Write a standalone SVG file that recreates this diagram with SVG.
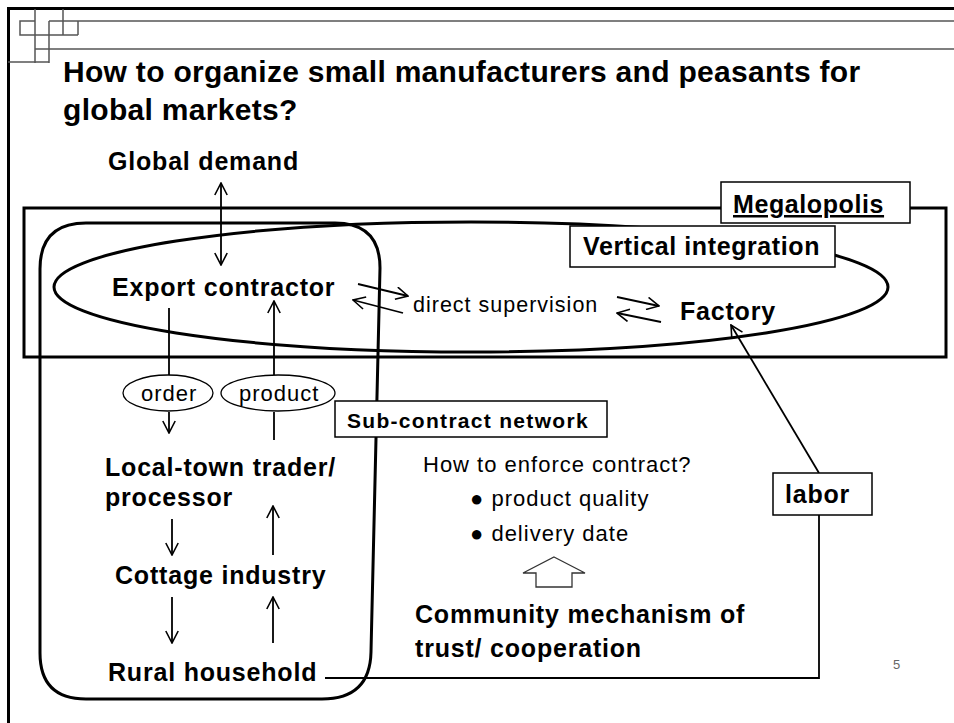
<svg xmlns="http://www.w3.org/2000/svg" width="954" height="723" viewBox="0 0 954 723">
<defs>
<style>
.b{font-family:"Liberation Sans",Arial,sans-serif;font-weight:bold;font-size:25px;letter-spacing:0.8px;fill:#000}
.r{font-family:"Liberation Sans",Arial,sans-serif;font-size:22px;letter-spacing:1px;fill:#000}
.t{font-family:"Liberation Sans",Arial,sans-serif;font-weight:bold;font-size:30px;letter-spacing:0.3px;fill:#000}
.box{fill:#fff;stroke:#000;stroke-width:1.5}
.thick{fill:none;stroke:#000;stroke-width:3}
.ln{fill:none;stroke:#000;stroke-width:1.8}
.arr{fill:none;stroke:#000;stroke-width:1.8;marker-end:url(#ah)}
.dbl{fill:none;stroke:#000;stroke-width:1.8;marker-end:url(#ah);marker-start:url(#ah)}
.deco{fill:none;stroke:#555;stroke-width:1.5}
</style>
<marker id="ah" markerUnits="userSpaceOnUse" markerWidth="14" markerHeight="14" viewBox="0 0 14 14" refX="13" refY="7" orient="auto-start-reverse">
<path d="M1,0.8 L13,7 L1,13.2" fill="none" stroke="#000" stroke-width="1.6"/>
</marker>
</defs>
<rect width="954" height="723" fill="#fff"/>
<g id="frame">
<path d="M7,8.5 H954 M8.5,8 V723" stroke="#000" stroke-width="3" fill="none"/>
<path class="deco" d="M20,21 H35 V35 H20 Z M35,9 V63 M49,21 V63 M63,9 V35 M78,21 V35 M49,21 H954 M20,35 H78 M35,49 H954 M8,62 H49"/>
</g>
<g id="title">
<text class="t" x="63" y="82">How to organize small manufacturers and peasants for</text>
<text class="t" x="63" y="120">global markets?</text>
</g>
<g id="regions">
<rect id="megalopolis-area" class="thick" x="24" y="208" width="922" height="149"/>
<ellipse id="vertical-area" class="thick" cx="471" cy="287" rx="417" ry="65"/>
<path id="subcontract-area" class="thick" d="M86,223 L335,223 Q380,223 380,268 L371,652 Q370,699 322,699 L86,699 Q40,699 40,653 L40,269 Q40,223 86,223 Z"/>
</g>
<g id="connectors">
<line class="dbl" x1="221" y1="183" x2="221" y2="265"/>
<line class="ln" x1="169" y1="308" x2="169" y2="375"/>
<line class="arr" x1="169" y1="412" x2="169" y2="433"/>
<line class="arr" x1="274" y1="375" x2="274" y2="301"/>
<line class="ln" x1="274" y1="412" x2="274" y2="440"/>
<line class="arr" x1="358" y1="284" x2="408" y2="296"/>
<line class="arr" x1="403" y1="313" x2="353" y2="300"/>
<line class="arr" x1="617" y1="297" x2="659" y2="306"/>
<line class="arr" x1="661" y1="322" x2="617" y2="313"/>
<line class="arr" x1="172" y1="519" x2="172" y2="555"/>
<line class="arr" x1="273" y1="555" x2="273" y2="506"/>
<line class="arr" x1="172" y1="597" x2="172" y2="643"/>
<line class="arr" x1="273" y1="643" x2="273" y2="597"/>
<line class="arr" x1="819" y1="473" x2="731" y2="325"/>
<path class="ln" d="M325,678 H819 V515"/>
</g>
<g id="megalopolis">
<rect class="box" x="721" y="182" width="189" height="41"/>
<text class="b" x="733" y="213" text-decoration="underline" style="letter-spacing:0.6px">Megalopolis</text>
</g>
<g id="vertical-integration">
<rect class="box" x="570" y="226" width="265" height="41"/>
<text class="b" x="583" y="255" style="letter-spacing:0.6px">Vertical integration</text>
</g>
<g id="global-demand"><text class="b" x="108" y="170">Global demand</text></g>
<g id="export-contractor"><text class="b" x="112" y="296">Export contractor</text></g>
<g id="direct-supervision"><text class="r" x="413" y="312" style="font-size:21.5px">direct supervision</text></g>
<g id="factory"><text class="b" x="680" y="320">Factory</text></g>
<g id="order">
<ellipse fill="#fff" stroke="#000" stroke-width="1.3" cx="168" cy="393" rx="45" ry="18"/>
<text class="r" x="141" y="401">order</text>
</g>
<g id="product">
<ellipse fill="#fff" stroke="#000" stroke-width="1.3" cx="278" cy="393" rx="57" ry="18"/>
<text class="r" x="239" y="401">product</text>
</g>
<g id="sub-contract-network">
<rect class="box" x="335" y="401" width="272" height="36"/>
<text class="b" x="347" y="428" style="font-size:21px;letter-spacing:1.3px">Sub-contract network</text>
</g>
<g id="local-town-trader">
<text class="b" x="105" y="476">Local-town trader/</text>
<text class="b" x="105" y="506">processor</text>
</g>
<g id="cottage-industry"><text class="b" x="115" y="584">Cottage industry</text></g>
<g id="rural-household"><text class="b" x="108" y="681">Rural household</text></g>
<g id="enforce">
<text class="r" x="423" y="472">How to enforce contract?</text>
<text class="r" x="470" y="506">●  product quality</text>
<text class="r" x="470" y="541">●  delivery date</text>
</g>
<g id="hollow-arrow">
<path d="M554,557 L585,573 H572 V587 H536 V573 H523 Z" fill="#fff" stroke="#333" stroke-width="1.3"/>
</g>
<g id="community">
<text class="b" x="415" y="623">Community mechanism of</text>
<text class="b" x="415" y="657">trust/ cooperation</text>
</g>
<g id="labor">
<rect class="box" x="773" y="473" width="99" height="42"/>
<text class="b" x="785" y="503">labor</text>
</g>
<g id="page-number"><text x="893" y="669" style="font-family:'Liberation Sans',Arial,sans-serif;font-size:13px;fill:#666">5</text></g>
</svg>
